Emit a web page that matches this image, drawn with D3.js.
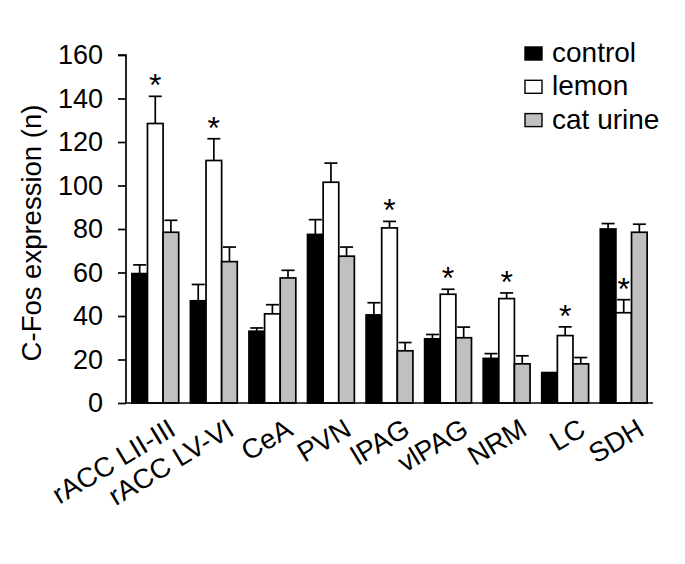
<!DOCTYPE html>
<html>
<head>
<meta charset="utf-8">
<script src="https://cdn.jsdelivr.net/npm/d3@7"></script>
<style>
  body { margin: 0; background: #fff; }
  svg { display: block; font-family: Arial, "Liberation Sans", sans-serif; }
</style>
</head>
<body>
<svg id="chart" width="685" height="564"></svg>
<script>
// ---- data ----
const categories = ["rACC LII-III", "rACC LV-VI", "CeA", "PVN", "lPAG", "vlPAG", "NRM", "LC", "SDH"];
const seriesNames = ["control", "lemon", "cat urine"];
const control    = [59.5, 47, 33, 77.5, 40.5, 29.5, 20.5, 14, 80];
const controlErr = [4, 7.5, 1.5, 6.8, 5.6, 2, 2.2, 0, 2.5];
const lemon      = [128.5, 111.5, 41, 101.5, 80.5, 50, 48, 31, 41.5];
const lemonErr   = [12.5, 10, 4.2, 8.8, 3, 2.3, 2.6, 4, 6];
const catUrine   = [78.5, 65, 57.5, 67.5, 24, 30, 18, 18, 78.5];
const catErr     = [5.5, 6.7, 3.5, 4.2, 3.8, 4.9, 3.7, 2.9, 3.7];
const significant = [true, true, false, false, true, true, true, true, true]; // lemon vs control
const yTicks = [0, 20, 40, 60, 80, 100, 120, 140, 160];
const yTitle = "C-Fos expression (n)";
const fills = ["#000000", "#ffffff", "#c0c0c0"];

const values = [control, lemon, catUrine];
const errs = [controlErr, lemonErr, catErr];

// ---- layout ----
const svg = d3.select("#chart");
const mLeft = 126, mRight = 653, mTop = 55, mBottom = 403;
const FONT = "Arial, 'Liberation Sans', sans-serif";

const x = d3.scaleBand().domain(categories).range([mLeft, mRight]).paddingInner(0.2).paddingOuter(0.1);
const xs = d3.scaleBand().domain(seriesNames).range([0, x.bandwidth()]);
const y = d3.scaleLinear().domain([0, 160]).range([mBottom, mTop]);

const rows = [];
categories.forEach((c, i) => {
  seriesNames.forEach((s, j) => {
    rows.push({ c, s, j, v: values[j][i], e: errs[j][i] });
  });
});

const g = svg.append("g");
const cx = d => x(d.c) + xs(d.s) + xs.bandwidth() / 2;

// error bars (upward only)
const withErr = rows.filter(d => d.e > 0);
g.selectAll("line.cap").data(withErr).join("line").attr("class", "cap")
  .attr("x1", d => cx(d) - 6.5).attr("x2", d => cx(d) + 6.5)
  .attr("y1", d => y(d.v + d.e)).attr("y2", d => y(d.v + d.e))
  .attr("stroke", "#000").attr("stroke-width", 1.7);

g.selectAll("rect.bar").data(rows).join("rect").attr("class", "bar")
  .attr("x", d => x(d.c) + xs(d.s))
  .attr("y", d => y(d.v))
  .attr("width", xs.bandwidth())
  .attr("height", d => y(0) - y(d.v))
  .attr("fill", d => fills[d.j])
  .attr("stroke", "#000").attr("stroke-width", 1.7);

g.selectAll("line.stem").data(withErr).join("line").attr("class", "stem")
  .attr("x1", cx).attr("x2", cx)
  .attr("y1", d => y(d.v)).attr("y2", d => y(d.v + d.e))
  .attr("stroke", "#000").attr("stroke-width", 1.7);

// significance asterisks
g.selectAll("text.star").data(categories.filter((c, i) => significant[i])).join("text").attr("class", "star")
  .attr("x", c => x(c) + xs("lemon") + xs.bandwidth() / 2)
  .attr("y", c => {
    const i = categories.indexOf(c);
    return y(lemon[i] + lemonErr[i]);
  })
  .attr("text-anchor", "middle")
  .attr("font-size", 32)
  .text("*");

// y axis
const yAxis = d3.axisLeft(y).tickValues(yTicks).tickSize(8).tickPadding(15);
const ya = svg.append("g").attr("transform", `translate(${mLeft},0)`).call(yAxis);
ya.select(".domain").attr("stroke", "#000").attr("stroke-width", 1.7)
  .attr("d", `M-8,${mTop}H0V${mBottom}`);
ya.selectAll(".tick line").attr("stroke", "#000").attr("stroke-width", 1.7);
ya.selectAll(".tick text").attr("font-size", 27).attr("fill", "#000")
  .attr("font-family", FONT);

// x axis
const xAxis = d3.axisBottom(x).tickSize(0).tickPadding(0);
const xa = svg.append("g").attr("transform", `translate(0,${mBottom})`).call(xAxis);
xa.select(".domain").attr("stroke", "#000").attr("stroke-width", 1.7)
  .attr("d", `M${mLeft},0H${mRight}`);
xa.selectAll(".tick text")
  .attr("font-size", 27.5).attr("fill", "#000")
  .attr("font-family", FONT)
  .attr("text-anchor", "end")
  .attr("y", 0).attr("dy", 0)
  .attr("transform", "translate(22,31) rotate(-31)");

// y title
svg.append("text")
  .attr("transform", `translate(41,233) rotate(-90)`)
  .attr("text-anchor", "middle")
  .attr("font-size", 27.5)
  .text(yTitle);

// legend
const lg = svg.append("g").attr("transform", "translate(525,47)");
const li = lg.selectAll("g").data(seriesNames).join("g")
  .attr("transform", (d, i) => `translate(0,${i * 33.3})`);
li.append("rect").attr("width", 17).attr("height", 13)
  .attr("fill", (d, i) => fills[i]).attr("stroke", "#000").attr("stroke-width", 1.4);
li.append("text").attr("x", 27).attr("y", 15).attr("font-size", 28).text(d => d);
</script>
</body>
</html>
